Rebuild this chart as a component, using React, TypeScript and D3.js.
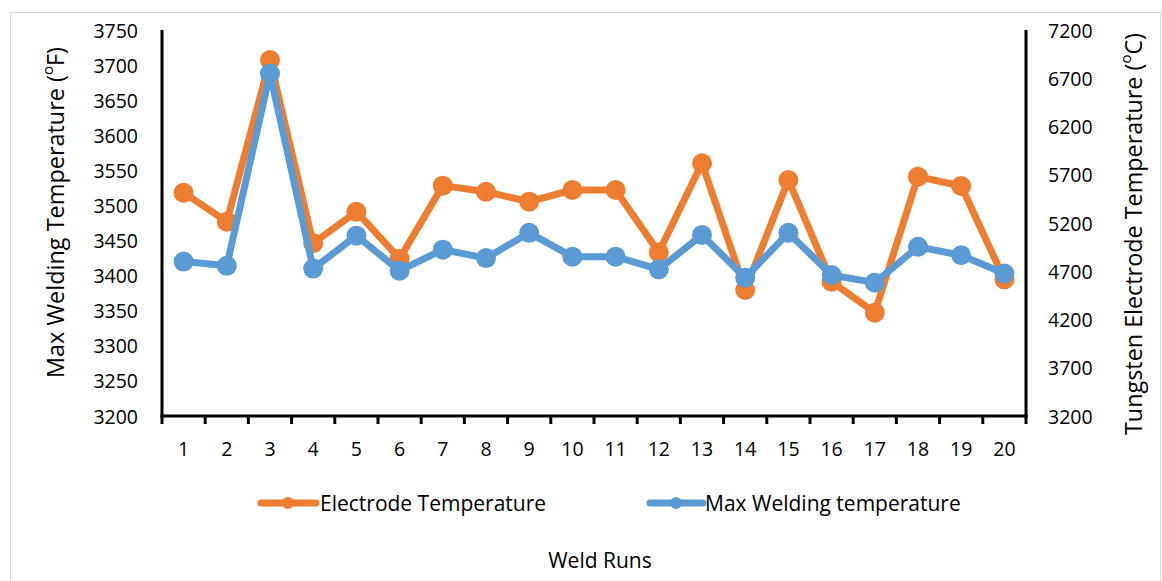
import React from "react";
import * as d3 from "d3";

const runs = ["1","2","3","4","5","6","7","8","9","10","11","12","13","14","15","16","17","18","19","20"];
// Electrode Temperature (ºC), right axis
const electrodeTemp = [5514, 5214, 6889, 4990, 5317, 4830, 5587, 5524, 5421, 5542, 5542, 4896, 5819, 4506, 5646, 4592, 4271, 5680, 5583, 4616];
// Max Welding temperature (ºF), left axis
const maxWeldTemp = [3420, 3414, 3688, 3410, 3457, 3407, 3437, 3425, 3461, 3427, 3427, 3409, 3458, 3397, 3461, 3401, 3390, 3441, 3429, 3403];
const leftTicks = [3200, 3250, 3300, 3350, 3400, 3450, 3500, 3550, 3600, 3650, 3700, 3750];
const rightTicks = [3200, 3700, 4200, 4700, 5200, 5700, 6200, 6700, 7200];

const ORANGE = "#ED7D31";
const BLUE = "#5B9BD5";
const FONT = "'Open Sans', 'DejaVu Sans', sans-serif";

export default function App() {
  const left = 162, right = 1026, top = 30, bottom = 416;
  const x = d3.scaleBand<string>().domain(runs).range([left, right]).padding(0);
  const yL = d3.scaleLinear().domain([3200, 3750]).range([bottom, top]);
  const yR = d3.scaleLinear().domain([3200, 7200]).range([bottom, top]);
  const cx = (i: number) => (x(runs[i]) as number) + x.bandwidth() / 2;

  const lineE = d3.line<number>().x((_, i) => cx(i)).y((d) => yR(d));
  const lineM = d3.line<number>().x((_, i) => cx(i)).y((d) => yL(d));

  const boundaries = runs.map((r) => x(r) as number).concat([right]);

  return (
    <svg width={1162} height={581} style={{ position: "absolute", left: 0, top: 0, display: "block" }} fontFamily={FONT}>
      <rect x={0} y={0} width={1162} height={581} fill="#fff" />
      <rect x={10.5} y={12.5} width={1150} height={600} fill="#fff" stroke="#d9d9d9" strokeWidth={1} />

      {/* series */}
      <path d={lineE(electrodeTemp) || ""} fill="none" stroke={ORANGE} strokeWidth={7} strokeLinejoin="round" />
      {electrodeTemp.map((d, i) => (
        <circle key={"e" + i} cx={cx(i)} cy={yR(d)} r={10} fill={ORANGE} />
      ))}
      <path d={lineM(maxWeldTemp) || ""} fill="none" stroke={BLUE} strokeWidth={7} strokeLinejoin="round" />
      {maxWeldTemp.map((d, i) => (
        <circle key={"m" + i} cx={cx(i)} cy={yL(d)} r={10} fill={BLUE} />
      ))}

      {/* axes */}
      <line x1={left} x2={left} y1={top} y2={bottom + 1.5} stroke="#000" strokeWidth={3} />
      <line x1={right} x2={right} y1={top} y2={bottom + 1.5} stroke="#000" strokeWidth={3} />
      <line x1={left - 1.5} x2={right + 1.5} y1={bottom} y2={bottom} stroke="#000" strokeWidth={3} />
      {boundaries.map((b, i) => (
        <line key={"t" + i} x1={b} x2={b} y1={bottom} y2={bottom + 8} stroke="#000" strokeWidth={3} />
      ))}

      {leftTicks.map((t) => (
        <text key={"l" + t} x={138} y={yL(t)} textAnchor="end" dominantBaseline="central" fontSize={19.5} fill="#000">{t}</text>
      ))}
      {rightTicks.map((t) => (
        <text key={"r" + t} x={1048} y={yR(t)} textAnchor="start" dominantBaseline="central" fontSize={19.5} fill="#000">{t}</text>
      ))}
      {runs.map((r, i) => (
        <text key={"x" + r} x={cx(i)} y={448} textAnchor="middle" dominantBaseline="central" fontSize={19.5} fill="#000">{r}</text>
      ))}

      {/* axis titles */}
      <text transform={`translate(55,212.5) rotate(-90)`} textAnchor="middle" dominantBaseline="central" fontSize={23.5} fill="#000" textLength={331} lengthAdjust="spacingAndGlyphs">
        Max Welding Temperature (<tspan fontSize={15} dy={-8}>o</tspan><tspan dy={8}>F)</tspan>
      </text>
      <text transform={`translate(1133,234) rotate(-90)`} textAnchor="middle" dominantBaseline="central" fontSize={23.5} fill="#000" textLength={402} lengthAdjust="spacingAndGlyphs">
        Tungsten Electrode Temperature (<tspan fontSize={15} dy={-8}>o</tspan><tspan dy={8}>C)</tspan>
      </text>
      <text x={600} y={560} textAnchor="middle" dominantBaseline="central" fontSize={21} fill="#000">Weld Runs</text>

      {/* legend */}
      <line x1={261} x2={316} y1={503} y2={503} stroke={ORANGE} strokeWidth={7} strokeLinecap="round" />
      <circle cx={288} cy={503} r={6} fill={ORANGE} />
      <text x={320} y={503} dominantBaseline="central" fontSize={21} fill="#000">Electrode Temperature</text>
      <line x1={650} x2={703} y1={503} y2={503} stroke={BLUE} strokeWidth={7} strokeLinecap="round" />
      <circle cx={676} cy={503} r={6} fill={BLUE} />
      <text x={705} y={503} dominantBaseline="central" fontSize={21} fill="#000">Max Welding temperature</text>
    </svg>
  );
}
